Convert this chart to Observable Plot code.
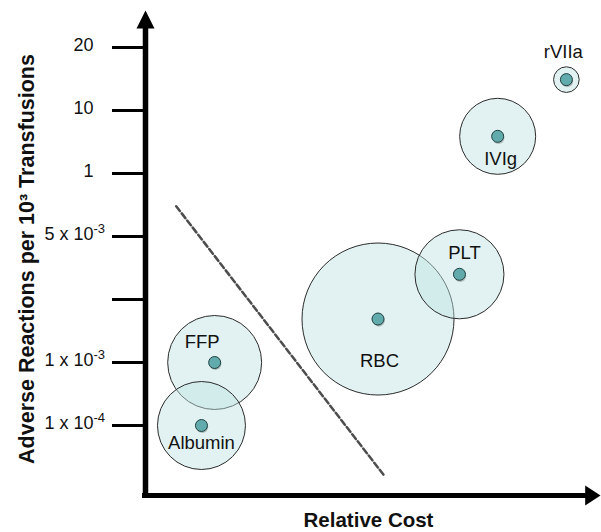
<!DOCTYPE html>
<html>
<head>
<meta charset="utf-8">
<script src="https://cdn.jsdelivr.net/npm/d3@7"></script>
<script src="https://cdn.jsdelivr.net/npm/@observablehq/plot@0.6"></script>
<style>
  html, body { margin: 0; padding: 0; background: #fff; }
  #chart svg { display: block; }
</style>
</head>
<body>
<div id="chart"></div>
<script>
// ---- data ----
const products      = ["Albumin", "FFP", "RBC", "PLT", "IVIg", "rVIIa"];
const relativeCost  = [1.23, 1.52, 5.11, 6.90, 7.74, 9.25];
// adverse-reaction level expressed as position on the (non-linear) tick ladder
const adverseLevel  = [0.0, 1.0, 1.69, 2.40, 4.59, 5.49];
// relative usage volume -> bubble area
const usageVolume   = [33.5, 38.2, 100, 34.3, 25, 2.84];
// y tick labels, bottom to top ("^" marks a superscript exponent)
const yTickLabels   = ["1 x 10^-4", "1 x 10^-3", "", "5 x 10^-3", "1", "10", "20"];
// dashed divider
const dividerCost   = [0.675, 5.24];
const dividerLevel  = [3.48, -0.79];

const data = products.map((name, i) => ({
  name, cost: relativeCost[i], level: adverseLevel[i], usage: usageVolume[i]
}));
const ticks = yTickLabels.map((label, i) => ({ label, level: i }));
const divider = dividerCost.map((c, i) => ({ cost: c, level: dividerLevel[i] }));

// ---- styling ----
const labelOffset = {
  Albumin: [0, 18], FFP: [-12.5, -20], RBC: [1.5, 42.5],
  PLT: [5, -21], IVIg: [3, 23], rVIIa: [-3, -27.5]
};
const yMin = -1.111, yMax = 6.587, xMin = 0, xMax = 10;

const arrowUp = {
  draw(ctx, size) {
    const r = Math.sqrt(size / Math.PI);
    ctx.moveTo(0, 0); ctx.lineTo(r / 2, r); ctx.lineTo(-r / 2, r); ctx.closePath();
  }
};
const arrowRight = {
  draw(ctx, size) {
    const r = Math.sqrt(size / Math.PI);
    ctx.moveTo(0, 0); ctx.lineTo(-r * 0.85, r * 0.55); ctx.lineTo(-r * 0.85, -r * 0.55); ctx.closePath();
  }
};

const FONT = "'Liberation Sans', Arial, Helvetica, sans-serif";

const labelMarks = products.map(p => Plot.text(data, {
  filter: d => d.name === p,
  x: "cost", y: "level", text: "name",
  dx: labelOffset[p][0], dy: labelOffset[p][1],
  fontSize: 18.5, fill: "#111"
}));

const chart = Plot.plot({
  width: 601,
  height: 532,
  marginLeft: 145,
  marginRight: 1,
  marginTop: 10,
  marginBottom: 37,
  style: { fontFamily: FONT, background: "white", color: "black" },
  x: { domain: [xMin, xMax], axis: null },
  y: {
    domain: [yMin, yMax],
    ticks: ticks.map(d => d.level),
    tickSize: 33,
    tickFormat: () => "",
    label: null
  },
  r: { type: "sqrt", domain: [0, 100], range: [0, 76] },
  marks: [
    // bubbles
    Plot.dot(data, {
      x: "cost", y: "level", r: "usage",
      fill: "#bfe3e3", fillOpacity: 0.45,
      stroke: "#2b2b2b", strokeWidth: 1
    }),
    // dashed divider
    Plot.line(divider, {
      x: "cost", y: "level",
      stroke: "#4d4d4d", strokeWidth: 2.5, strokeDasharray: "6,3"
    }),
    // point shadows + points
    Plot.dot(data, { x: "cost", y: "level", r: 6, fill: "#000", fillOpacity: 0.22, dx: 0.8, dy: 1.6 }),
    Plot.dot(data, { x: "cost", y: "level", r: 6, fill: "#62abad", stroke: "#1f3f3f", strokeWidth: 1 }),
    // bubble labels
    ...labelMarks,
    // y tick labels (base + superscript exponent)
    Plot.text(ticks, {
      y: "level", text: d => d.label.split("^")[0],
      frameAnchor: "left", textAnchor: "end", lineAnchor: "middle", dx: -52, dy: -2,
      fontSize: 18, fill: "#111"
    }),
    Plot.text(ticks, {
      y: "level", text: d => d.label.split("^")[1] || "",
      frameAnchor: "left", textAnchor: "start", lineAnchor: "middle", dx: -52, dy: -8,
      fontSize: 13, fill: "#111"
    }),
    // axis lines
    Plot.ruleX([xMin], { stroke: "black", strokeWidth: 5.5, insetTop: 12, insetBottom: -3 }),
    Plot.ruleY([yMin], { stroke: "black", strokeWidth: 5, insetLeft: -3, insetRight: 12 }),
    // arrow heads
    Plot.dot([0], { x: () => xMin, y: () => yMax, r: 18, symbol: arrowUp, fill: "black", stroke: "none" }),
    Plot.dot([0], { x: () => xMax, y: () => yMin, r: 18, symbol: arrowRight, fill: "black", stroke: "none" }),
    // axis titles
    Plot.text(["Adverse Reactions per 10³ Transfusions"], {
      text: d => d, frameAnchor: "left", textAnchor: "middle", lineAnchor: "middle",
      rotate: -90, dx: -118, dy: 6,
      fontSize: 21.5, fontWeight: "bold", fill: "#111"
    }),
    Plot.text(["Relative Cost"], {
      text: d => d, frameAnchor: "bottom", textAnchor: "middle", lineAnchor: "middle",
      dx: -4.5, dy: 25,
      fontSize: 20.5, fontWeight: "bold", fill: "#111"
    })
  ]
});

// thicker tick marks on the y axis
d3.select(chart).selectAll('g[aria-label^="y-axis"]').attr("stroke-width", 3);

document.getElementById("chart").appendChild(chart);
</script>
</body>
</html>
